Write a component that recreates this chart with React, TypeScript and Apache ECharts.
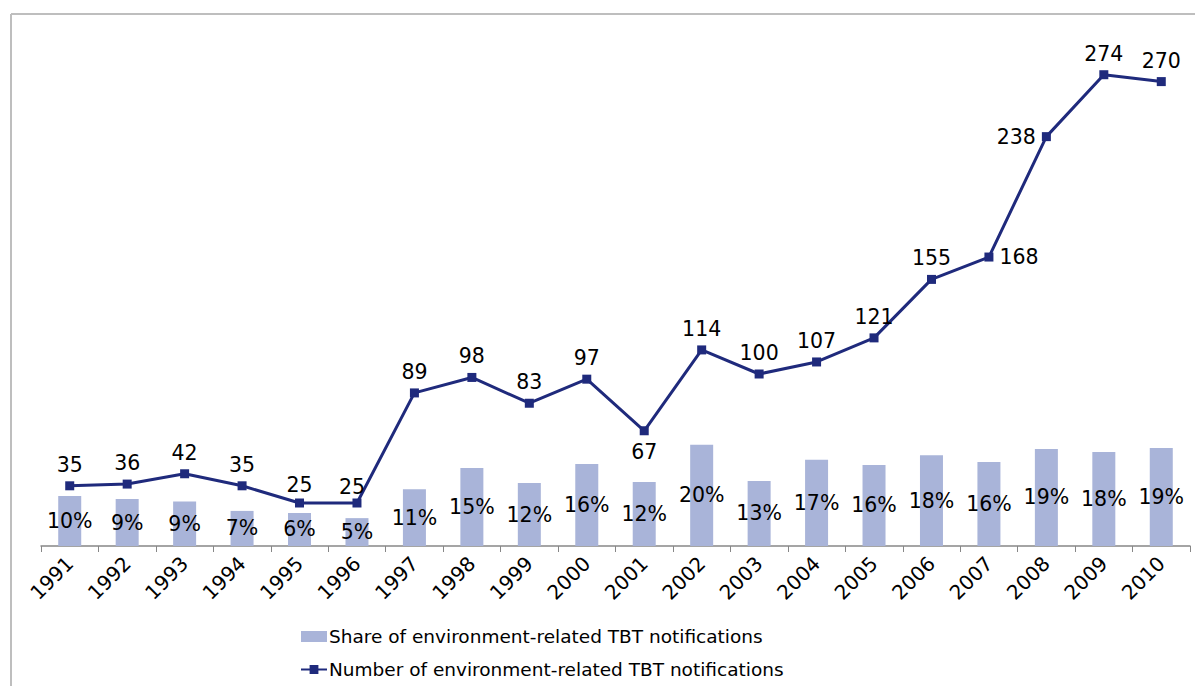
import React, { useEffect, useRef } from "react";
import * as echarts from "echarts";

const years = ["1991","1992","1993","1994","1995","1996","1997","1998","1999","2000","2001","2002","2003","2004","2005","2006","2007","2008","2009","2010"];
const shareValues = [9.7, 9.1, 8.6, 6.8, 6.4, 5.4, 11.0, 15.1, 12.2, 15.9, 12.4, 19.6, 12.6, 16.7, 15.7, 17.6, 16.3, 18.8, 18.2, 19.0];
const numberValues = [35, 36, 42, 35, 25, 25, 89, 98, 83, 97, 67, 114, 100, 107, 121, 155, 168, 238, 274, 270];
const labelPositions: Record<number, string> = { 10: "bottom", 16: "right", 17: "left" };

const shareName = "Share of environment-related TBT notifications";
const numberName = "Number of environment-related TBT notifications";

const FONT = "'DejaVu Sans', Verdana, sans-serif";

export default function App() {
  const ref = useRef<HTMLDivElement>(null);
  useEffect(() => {
    if (!ref.current) return;
    const chart = echarts.init(ref.current, null, { renderer: "svg" });
    chart.setOption({
      animation: false,
      backgroundColor: "#fff",
      textStyle: { fontFamily: FONT },
      graphic: [
        { type: "line", shape: { x1: 11, y1: 14, x2: 1195, y2: 14 }, style: { stroke: "#BEBEBE", lineWidth: 2 } },
        { type: "line", shape: { x1: 11, y1: 14, x2: 11, y2: 686 }, style: { stroke: "#BEBEBE", lineWidth: 2 } },
      ],
      grid: { left: 41, right: 5, top: 30, bottom: 140, containLabel: false },
      legend: {
        data: [
          { name: shareName, icon: "rect" },
          { name: numberName },
        ],
        orient: "vertical",
        left: 295,
        top: 622,
        itemWidth: 26,
        itemHeight: 11,
        itemGap: 14,
        textStyle: { fontSize: 18.5, color: "#000", fontFamily: FONT, padding: [0, 0, 0, -3] },
      },
      xAxis: {
        type: "category",
        data: years,
        boundaryGap: true,
        axisLine: { lineStyle: { color: "#878787", width: 1.5 } },
        axisTick: { show: true, length: 6, lineStyle: { color: "#878787" } },
        axisLabel: { rotate: 45, fontSize: 20, color: "#000", fontFamily: FONT, margin: 14, interval: 0 },
      },
      yAxis: [
        { type: "value", min: 0, max: 300, show: false, splitLine: { show: false } },
        { type: "value", min: 0, max: 100, show: false, splitLine: { show: false } },
      ],
      series: [
        {
          name: shareName,
          type: "bar",
          yAxisIndex: 1,
          data: shareValues,
          barWidth: 23,
          itemStyle: { color: "#A9B4D9" },
          label: {
            show: true,
            position: "inside",
            fontSize: 20.5,
            color: "#000",
            fontFamily: FONT,
            formatter: (p: any) => Math.round(p.value) + "%",
          },
          z: 1,
        },
        {
          name: numberName,
          type: "line",
          yAxisIndex: 0,
          data: numberValues.map((v, i) => {
            if (labelPositions[i]) return { value: v, label: { position: labelPositions[i] } };
            if (i === 4) return { value: v, label: { offset: [0, 3] } };
            if (i === 5) return { value: v, label: { offset: [-5, 5] } };
            return v;
          }),
          symbol: "rect",
          symbolSize: 9,
          lineStyle: { color: "#1F2A7C", width: 3 },
          itemStyle: { color: "#1F2A7C" },
          label: {
            show: true,
            position: "top",
            distance: 6,
            fontSize: 20.5,
            color: "#000",
            fontFamily: FONT,
          },
          z: 3,
        },
      ],
    });
    return () => chart.dispose();
  }, []);
  return <div ref={ref} style={{ position: "absolute", left: 0, top: 0, width: 1195, height: 686 }} />;
}
